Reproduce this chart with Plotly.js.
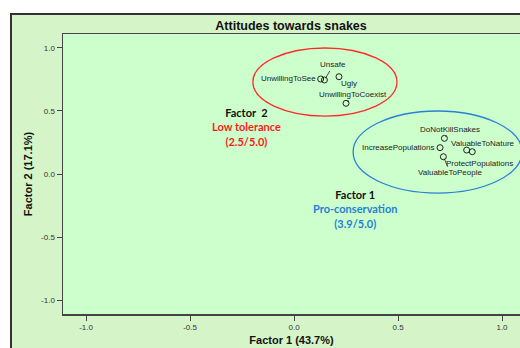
<!DOCTYPE html>
<html>
<head>
<meta charset="utf-8">
<script src="https://cdn.plot.ly/plotly-3.0.1.min.js"></script>
<style>
html,body{margin:0;padding:0;background:#fff;}
#chart{width:520px;height:348px;}
</style>
</head>
<body>
<div id="chart"></div>
<script>
// ---- data ----
const items = ["UnwillingToSee","Unsafe","Ugly","UnwillingToCoexist",
               "DoNotKillSnakes","IncreasePopulations","ValuableToNature","ProtectPopulations","ValuableToPeople"];
const factor1 = [0.128, 0.146, 0.216, 0.250, 0.723, 0.702, 0.857, 0.830, 0.718];
const factor2 = [0.754, 0.746, 0.772, 0.561, 0.283, 0.209, 0.177, 0.190, 0.137];
const tickVals = [-1.0, -0.5, 0.0, 0.5, 1.0];
const tickText = ["-1.0", "-0.5", "0.0", "0.5", "1.0"];
const lowTolX = [-0.198, 0.495], lowTolY = [0.46, 1.0];   // red ellipse bounds
const proConsX = [0.284, 1.096], proConsY = [-0.151, 0.50]; // blue ellipse bounds

// label placement (pixel offsets of label relative to its point; arrow = leader line)
const labelStyle = {
  "UnwillingToSee":     {xanchor:"right", xshift:-3, yshift:0, arrow:false},
  "Unsafe":             {ax:9, ay:-15, arrow:true},
  "Ugly":               {xanchor:"center", xshift:10, yshift:-7, arrow:false},
  "UnwillingToCoexist": {ax:7, ay:-9, arrow:true},
  "DoNotKillSnakes":    {ax:6, ay:-9, arrow:true},
  "IncreasePopulations":{xanchor:"right", xshift:-3, yshift:0, arrow:false},
  "ValuableToNature":   {ax:11, ay:-8, arrow:true},
  "ProtectPopulations": {xanchor:"center", xshift:13, yshift:-13, arrow:false},
  "ValuableToPeople":   {ax:7, ay:16, arrow:true}
};

const labelFont = {family:"Liberation Sans, Arial, sans-serif", size:8, color:"#222"};
const annotations = items.map((name, i) => {
  const s = labelStyle[name];
  const a = {x: factor1[i], y: factor2[i], xref:"x", yref:"y", text: name, font: labelFont};
  if (s.arrow) {
    Object.assign(a, {showarrow:true, arrowhead:0, arrowwidth:0.8, arrowcolor:"#222",
                      ax:s.ax, ay:s.ay, standoff:2, startstandoff:0});
  } else {
    Object.assign(a, {showarrow:false, xanchor:s.xanchor, yanchor:"middle", xshift:s.xshift, yshift:s.yshift});
  }
  return a;
});

const blockFont = {family:"Lato, Open Sans, sans-serif", size:11, color:"#111"};
annotations.push({
  x:-0.231, y:0.37, xref:"x", yref:"y", showarrow:false, align:"center",
  text:"<b>Factor\u00a0\u00a02</b><br><b><span style='color:#ff1a1a'>Low tolerance</span></b><br><b><span style='color:#ff1a1a'>(2.5/5.0)</span></b>",
  font: blockFont
});
annotations.push({
  x:0.293, y:-0.275, xref:"x", yref:"y", showarrow:false, align:"center",
  text:"<b>Factor 1</b><br><b><span style='color:#1f7fd6'>Pro-conservation</span></b><br><b><span style='color:#1f7fd6'>(3.9/5.0)</span></b>",
  font: blockFont
});

const trace = {
  x: factor1, y: factor2, text: items, type:"scatter", mode:"markers",
  marker:{symbol:"circle-open", size:6, color:"#222", line:{width:1, color:"#222"}},
  hoverinfo:"text", showlegend:false
};

const axisFont = {family:"Liberation Sans, Arial, sans-serif", size:8, color:"#333"};
const titleFont = {family:"Liberation Sans, Arial, sans-serif", size:11, color:"#111"};
const layout = {
  width:520, height:348,
  margin:{l:63, r:0, t:34, b:34, pad:0},
  paper_bgcolor:"#ffffff",
  plot_bgcolor:"#ccffcc",
  title:{text:"<b>Attitudes towards snakes</b>", x:0.499, xref:"paper", y:1-26/348, yanchor:"middle",
         font:{family:"Liberation Sans, Arial, sans-serif", size:12.5, color:"#111"}},
  xaxis:{range:[-1.111, 1.0865], tickvals:tickVals, ticktext:tickText, ticks:"outside", ticklen:5,
         tickcolor:"#444", tickfont:axisFont, showgrid:false, zeroline:false,
         showline:true, mirror:true, linecolor:"#444", linewidth:1.5,
         title:{text:"<b>Factor 1 (43.7%)</b>", standoff:5, font:titleFont}},
  yaxis:{range:[-1.111, 1.111], tickvals:tickVals, ticktext:tickText, ticks:"outside", ticklen:5,
         tickcolor:"#444", tickfont:axisFont, showgrid:false, zeroline:false,
         showline:true, mirror:false, linecolor:"#444", linewidth:1.5,
         title:{text:"<b>Factor 2 (17.1%)</b>", standoff:6, font:titleFont}},
  shapes:[
    {type:"rect", xref:"paper", yref:"paper", x0:-0.1138, x1:1.05, y0:-0.2, y1:1.0714,
     fillcolor:"#d5f5c8", line:{color:"#333", width:2}, layer:"below"},
    {type:"rect", xref:"paper", yref:"paper", x0:0, x1:1.01, y0:0, y1:1,
     fillcolor:"#ccffcc", line:{width:0}, layer:"below"},
    {type:"circle", xref:"x", yref:"y", x0:lowTolX[0], x1:lowTolX[1], y0:lowTolY[0], y1:lowTolY[1],
     line:{color:"#ff2a2a", width:1.3}},
    {type:"circle", xref:"x", yref:"y", x0:proConsX[0], x1:proConsX[1], y0:proConsY[0], y1:proConsY[1],
     line:{color:"#2a80d6", width:1.3}}
  ],
  annotations: annotations
};

Plotly.newPlot("chart", [trace], layout, {displayModeBar:false, staticPlot:true});
</script>
</body>
</html>
